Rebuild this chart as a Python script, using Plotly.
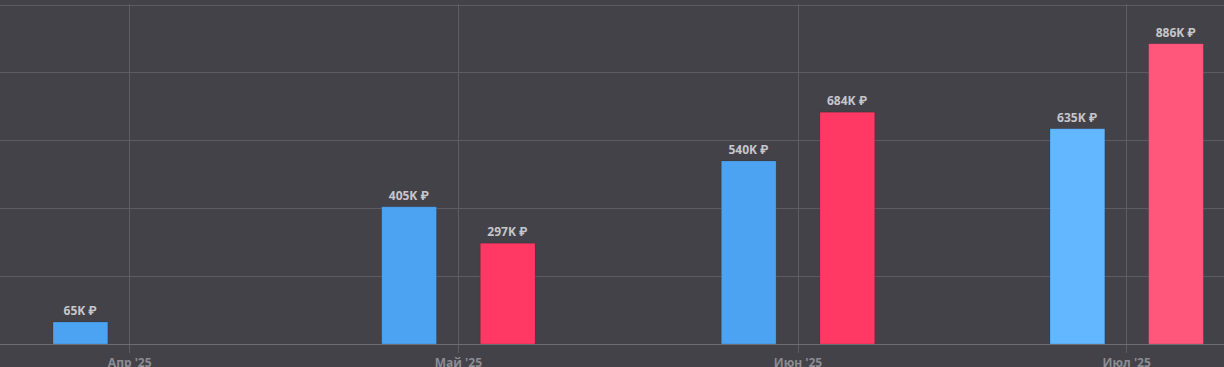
import plotly.graph_objects as go
from datetime import datetime, timedelta

months = ["2025-04-01", "2025-05-01", "2025-06-01", "2025-07-01"]
tick_labels = ["Апр '25", "Май '25", "Июн '25", "Июл '25"]
blue_values = [65000, 405000, 540000, 635000]
red_values = [None, 297000, 684000, 886000]
blue_colors = ["#4ba3f1", "#4ba3f1", "#4ba3f1", "#63b7ff"]
red_colors = ["#ff3963", "#ff3963", "#ff3963", "#ff567c"]

DAY = 86400000
BG = "#434249"
GRID = "#5d5c62"
LABEL_FONT = dict(family="Open Sans, Roboto, sans-serif", size=12, color="#c6c6ca")


def fmt(v):
    return "" if v is None else f"<b>{round(v/1000)}K ₽</b>"


fig = go.Figure()
fig.add_trace(go.Bar(
    x=months, y=blue_values, width=[5 * DAY] * 4, offset=-7 * DAY,
    marker=dict(color=blue_colors, line=dict(width=1, color="rgba(0,0,0,0.12)")),
    text=[fmt(v) for v in blue_values], textposition="outside",
    textfont=LABEL_FONT, cliponaxis=False, hoverinfo="skip",
))
fig.add_trace(go.Bar(
    x=months, y=red_values, width=[5 * DAY] * 4, offset=2 * DAY,
    marker=dict(color=red_colors, line=dict(width=1, color="rgba(0,0,0,0.12)")),
    text=[fmt(v) for v in red_values], textposition="outside",
    textfont=LABEL_FONT, cliponaxis=False, hoverinfo="skip",
))

x0 = datetime(2025, 4, 1) - timedelta(days=11.84)
x1 = datetime(2025, 7, 1) + timedelta(days=8.88)

fig.update_layout(
    width=1224, height=367,
    margin=dict(l=0, r=0, t=4, b=23),
    paper_bgcolor=BG, plot_bgcolor=BG,
    showlegend=False, barmode="overlay",
    xaxis=dict(
        type="date", range=[x0, x1],
        tickmode="array", tickvals=months,
        ticktext=[f"<b>{t}</b>" for t in tick_labels],
        showgrid=True, gridcolor=GRID, gridwidth=1,
        ticks="outside", ticklen=8, tickcolor=GRID, tickwidth=1,
        tickfont=dict(family="Open Sans, Roboto, sans-serif", size=12, color="#8c8c91"),
        showline=True, linecolor="#6e6d73", linewidth=1,
        zeroline=False, automargin=False,
    ),
    yaxis=dict(
        range=[0, 1003000], tickvals=[200000, 400000, 600000, 800000, 1000000],
        showgrid=True, gridcolor=GRID, gridwidth=1,
        showticklabels=False, zeroline=False, showline=False,
    ),
)

fig.write_html(
    "out.html",
    config={"displayModeBar": False},
    post_script="document.body.style.margin='0';document.body.style.overflow='hidden';document.body.style.background='" + BG + "';",
)
